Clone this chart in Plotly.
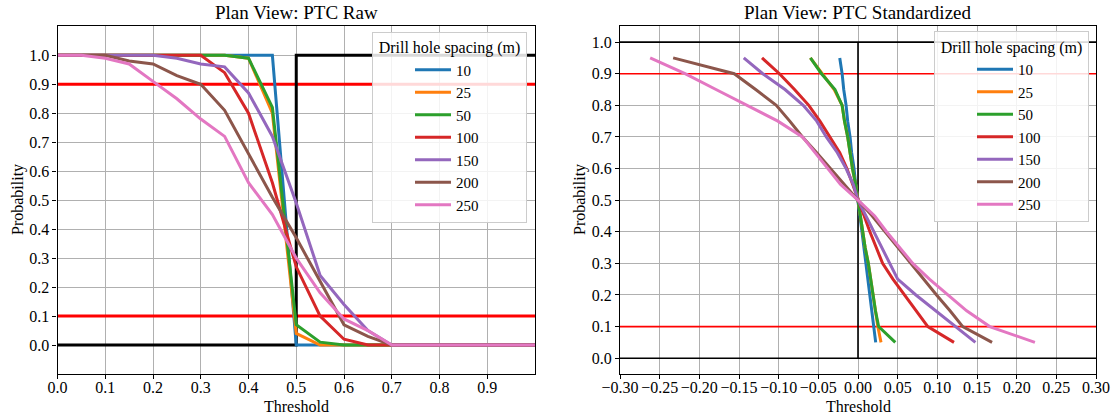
import plotly.graph_objects as go

# Raw panel: exceedance probability vs threshold for each drill hole spacing
thresholds = [0.0, 0.05, 0.10, 0.15, 0.20, 0.25, 0.30, 0.35, 0.40, 0.45, 0.50,
              0.55, 0.60, 0.65, 0.70, 0.75, 0.80, 0.85, 0.90, 0.95, 1.0]
raw_10 = [1.0, 1.0, 1.0, 1.0, 1.0, 1.0, 1.0, 1.0, 1.0, 1.0, 0.0,
          0.0, 0.0, 0.0, 0.0, 0.0, 0.0, 0.0, 0.0, 0.0, 0.0]
raw_25 = [1.0, 1.0, 1.0, 1.0, 1.0, 1.0, 1.0, 1.0, 0.99, 0.80, 0.04,
          0.0, 0.0, 0.0, 0.0, 0.0, 0.0, 0.0, 0.0, 0.0, 0.0]
raw_50 = [1.0, 1.0, 1.0, 1.0, 1.0, 1.0, 1.0, 1.0, 0.99, 0.82, 0.07,
          0.01, 0.0, 0.0, 0.0, 0.0, 0.0, 0.0, 0.0, 0.0, 0.0]
raw_100 = [1.0, 1.0, 1.0, 1.0, 1.0, 1.0, 1.0, 0.94, 0.80, 0.56, 0.27,
           0.10, 0.02, 0.0, 0.0, 0.0, 0.0, 0.0, 0.0, 0.0, 0.0]
raw_150 = [1.0, 1.0, 1.0, 1.0, 1.0, 0.99, 0.97, 0.96, 0.87, 0.72, 0.49,
           0.24, 0.14, 0.05, 0.0, 0.0, 0.0, 0.0, 0.0, 0.0, 0.0]
raw_200 = [1.0, 1.0, 1.0, 0.98, 0.97, 0.93, 0.90, 0.81, 0.66, 0.51, 0.37,
           0.22, 0.07, 0.03, 0.0, 0.0, 0.0, 0.0, 0.0, 0.0, 0.0]
raw_250 = [1.0, 1.0, 0.99, 0.97, 0.91, 0.85, 0.78, 0.72, 0.56, 0.45, 0.30,
           0.18, 0.09, 0.05, 0.0, 0.0, 0.0, 0.0, 0.0, 0.0, 0.0]

# Standardized panel: threshold offset at each probability level
prob_levels = [0.95, 0.90, 0.85, 0.80, 0.75, 0.70, 0.65, 0.60, 0.55, 0.50,
               0.45, 0.40, 0.35, 0.30, 0.25, 0.20, 0.15, 0.10, 0.05]
std_10 = [-0.023, -0.020, -0.018, -0.015, -0.013, -0.010, -0.008, -0.005, -0.003, 0.0,
          0.0025, 0.005, 0.0074, 0.0099, 0.0124, 0.0149, 0.0173, 0.0198, 0.0223]
std_25 = [-0.060, -0.045, -0.030, -0.020, -0.017, -0.013, -0.010, -0.007, -0.003, 0.0,
          0.003, 0.006, 0.009, 0.013, 0.016, 0.019, 0.022, 0.025, 0.029]
std_50 = [-0.060, -0.046, -0.029, -0.020, -0.017, -0.013, -0.010, -0.007, -0.003, 0.0,
          0.003, 0.006, 0.009, 0.013, 0.016, 0.019, 0.022, 0.026, 0.047]
std_100 = [-0.121, -0.099, -0.080, -0.062, -0.048, -0.035, -0.023, -0.014, -0.007, 0.0,
           0.008, 0.015, 0.023, 0.031, 0.044, 0.059, 0.074, 0.088, 0.121]
std_150 = [-0.144, -0.120, -0.092, -0.069, -0.052, -0.040, -0.026, -0.015, -0.006, 0.0,
           0.010, 0.020, 0.030, 0.040, 0.050, 0.073, 0.098, 0.122, 0.148]
std_200 = [-0.233, -0.156, -0.129, -0.103, -0.086, -0.070, -0.052, -0.035, -0.017, 0.0,
           0.018, 0.034, 0.050, 0.066, 0.083, 0.099, 0.116, 0.132, 0.169]
std_250 = [-0.262, -0.218, -0.179, -0.139, -0.101, -0.070, -0.054, -0.038, -0.022, 0.0,
           0.021, 0.036, 0.053, 0.069, 0.090, 0.114, 0.137, 0.166, 0.223]

spacings = ["10", "25", "50", "100", "150", "200", "250"]
colors = ["#1f77b4", "#ff7f0e", "#2ca02c", "#d62728", "#9467bd", "#8c564b", "#e377c2"]
raw_series = [raw_10, raw_25, raw_50, raw_100, raw_150, raw_200, raw_250]
std_series = [std_10, std_25, std_50, std_100, std_150, std_200, std_250]

# Reference lines
ideal_x = [0.0, 0.5, 0.5, 1.0]
ideal_y = [0.0, 0.0, 1.0, 1.0]
conf_levels = [0.9, 0.1]

raw_xticks = [0.0, 0.1, 0.2, 0.3, 0.4, 0.5, 0.6, 0.7, 0.8, 0.9]
std_xticks = [-0.30, -0.25, -0.20, -0.15, -0.10, -0.05, 0.0, 0.05, 0.10, 0.15, 0.20, 0.25, 0.30]
std_xtext = ["\u22120.30", "\u22120.25", "\u22120.20", "\u22120.15", "\u22120.10", "\u22120.05",
             "0.00", "0.05", "0.10", "0.15", "0.20", "0.25", "0.30"]
prob_ticks = [0.0, 0.1, 0.2, 0.3, 0.4, 0.5, 0.6, 0.7, 0.8, 0.9, 1.0]

FONT = "Liberation Serif"
fig = go.Figure()

# --- left panel reference lines
for lvl in conf_levels:
    fig.add_trace(go.Scatter(x=[0.0, 1.0], y=[lvl, lvl], mode="lines",
                             line=dict(color="red", width=3), showlegend=False,
                             hoverinfo="skip", xaxis="x", yaxis="y"))
fig.add_trace(go.Scatter(x=ideal_x, y=ideal_y, mode="lines",
                         line=dict(color="black", width=3), showlegend=False,
                         hoverinfo="skip", xaxis="x", yaxis="y"))

# --- right panel reference lines
for lvl in conf_levels:
    fig.add_trace(go.Scatter(x=[-0.3, 0.3], y=[lvl, lvl], mode="lines",
                             line=dict(color="red", width=1.6), showlegend=False,
                             hoverinfo="skip", xaxis="x2", yaxis="y2"))
for lvl in [1.0, 0.0]:
    fig.add_trace(go.Scatter(x=[-0.3, 0.3], y=[lvl, lvl], mode="lines",
                             line=dict(color="black", width=1.6), showlegend=False,
                             hoverinfo="skip", xaxis="x2", yaxis="y2"))
fig.add_trace(go.Scatter(x=[0.0, 0.0], y=[0.0, 1.0], mode="lines",
                         line=dict(color="black", width=1.6), showlegend=False,
                         hoverinfo="skip", xaxis="x2", yaxis="y2"))

# --- curves
for name, col, ys in zip(spacings, colors, raw_series):
    fig.add_trace(go.Scatter(x=thresholds, y=ys, mode="lines", name=name,
                             line=dict(color=col, width=3),
                             xaxis="x", yaxis="y", legend="legend"))
for name, col, xs in zip(spacings, colors, std_series):
    fig.add_trace(go.Scatter(x=xs, y=prob_levels, mode="lines", name=name,
                             line=dict(color=col, width=3),
                             xaxis="x2", yaxis="y2", legend="legend2"))

W, H = 1114, 418
L1, R1 = 57.5, 535
L2, R2 = 620, 1096
TOP, BOT = 26.3, 374

axis_common = dict(showline=True, linecolor="black", linewidth=1.2, mirror=True,
                   showgrid=True, gridcolor="#b0b0b0", gridwidth=1,
                   ticks="outside", ticklen=4, tickwidth=1, tickcolor="black",
                   zeroline=False, automargin=False,
                   tickfont=dict(family=FONT, size=16, color="black"))

leg_common = dict(bgcolor="rgba(255,255,255,0.85)", bordercolor="#cccccc",
                  borderwidth=1, font=dict(family=FONT, size=15, color="black"),
                  xanchor="left", yanchor="top", indentation=37, itemwidth=36,
                  title=dict(text="\u2009Drill hole spacing (m)\u2009", side="top center",
                             font=dict(family=FONT, size=16, color="black")))


def label(text, x, y, size, angle=0):
    return dict(text=text, x=x / W, y=1 - y / H, xref="paper", yref="paper",
                xanchor="center", yanchor="middle", showarrow=False,
                textangle=angle, font=dict(family=FONT, size=size, color="black"))


fig.update_layout(
    width=W, height=H, margin=dict(l=0, r=0, t=0, b=0, autoexpand=False),
    paper_bgcolor="white", plot_bgcolor="white",
    font=dict(family=FONT, color="black"),
    xaxis=dict(domain=[L1 / W, R1 / W], range=[0, 1], ticklabelstandoff=-5,
               tickvals=raw_xticks, tickformat=".1f", anchor="y", **axis_common),
    yaxis=dict(domain=[1 - BOT / H, 1 - TOP / H], range=[-0.1, 1.1],
               tickvals=prob_ticks, tickformat=".1f", anchor="x", **axis_common),
    xaxis2=dict(domain=[L2 / W, R2 / W], range=[-0.3, 0.3], ticklabelstandoff=-5,
                tickvals=std_xticks, ticktext=std_xtext, anchor="y2", **axis_common),
    yaxis2=dict(domain=[1 - BOT / H, 1 - TOP / H], range=[-0.05, 1.05],
                tickvals=prob_ticks, tickformat=".1f", anchor="x2", **axis_common),
    legend=dict(x=372 / W, y=1 - 31.7 / H, **leg_common),
    legend2=dict(x=934 / W, y=1 - 31.3 / H, **leg_common),
    annotations=[
        label("Plan View: PTC Raw", (L1 + R1) / 2, 13, 19),
        label("Plan View: PTC Standardized", (L2 + R2) / 2, 13, 19),
        label("Threshold", (L1 + R1) / 2, 406, 16),
        label("Threshold", (L2 + R2) / 2, 406, 16),
        label("Probability", 18, 200, 16, -90),
        label("Probability", 580, 200, 16, -90),
    ],
)

fig.write_html("out.html")
